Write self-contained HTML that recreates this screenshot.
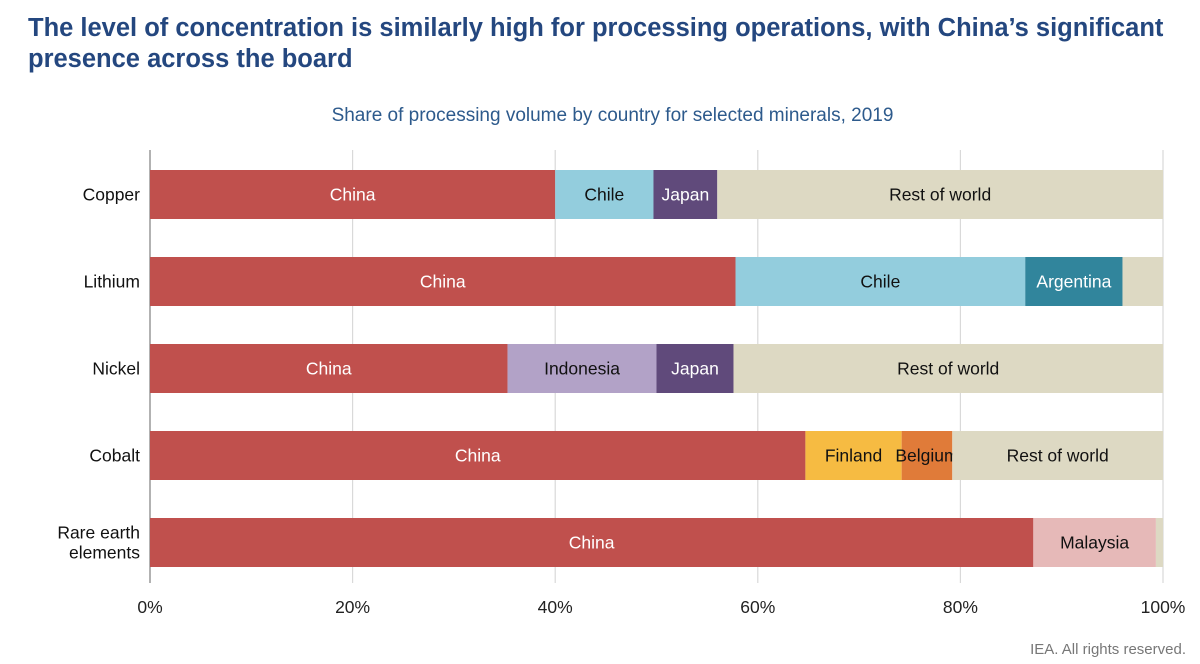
<!DOCTYPE html>
<html><head><meta charset="utf-8"><style>
body{margin:0;width:1200px;height:664px;background:#fff;font-family:"Liberation Sans",sans-serif;overflow:hidden;position:relative}
#title{position:absolute;left:28px;top:13px;width:1170px;font-size:25.5px;font-weight:bold;color:#24477f;line-height:31px}
#sub{position:absolute;left:0;width:1225px;top:105px;text-align:center;font-size:19px;color:#2d5a8c}
#foot{position:absolute;right:14px;top:641px;font-size:15px;color:#777}
</style></head><body>
<div id="title">The level of concentration is similarly high for processing operations, with China’s significant presence across the board</div>
<div id="sub">Share of processing volume by country for selected minerals, 2019</div>
<svg id="chart" width="1200" height="664" style="position:absolute;left:0;top:0"></svg>
<div id="foot">IEA. All rights reserved.</div>
<script>
const minerals=["Copper","Lithium","Nickel","Cobalt","Rare earth|elements"];
const segLabels=[["China","Chile","Japan","Rest of world"],["China","Chile","Argentina",""],["China","Indonesia","Japan","Rest of world"],["China","Finland","Belgium","Rest of world"],["China","Malaysia",""]];
const segValues=[[40,9.7,6.3,44],[57.8,28.6,9.6,4],[35.3,14.7,7.6,42.4],[64.7,9.5,5,20.8],[87.2,12.1,0.7]];
const ticks=[0,20,40,60,80,100];
const colorMap={"China":"#c0504d","Chile":"#93cddd","Japan":"#604a7b","Rest of world":"#ddd9c3","":"#ddd9c3","Argentina":"#31859c","Indonesia":"#b2a2c7","Finland":"#f6bb42","Belgium":"#e07b39","Malaysia":"#e6b9b8"};
const whiteText={"China":1,"Japan":1,"Argentina":1};
const NS="http://www.w3.org/2000/svg",svg=document.getElementById("chart");
const x=v=>150+v*10.13, y=i=>170+i*87, bh=49, fs=17.5;
function mk(t,a){const e=document.createElementNS(NS,t);for(const k in a)e.setAttribute(k,a[k]);svg.appendChild(e);return e;}
ticks.forEach(t=>{
 const l=mk("line",{x1:x(t),x2:x(t),y1:150,y2:583,stroke:t===0?"#999":"#d9d9d9","stroke-width":t===0?1.5:1.2});
 
 
 const tx=mk("text",{x:x(t),y:613,"text-anchor":"middle","font-size":fs,fill:"#222"});tx.textContent=t+"%";
 
 
});
minerals.forEach((m,i)=>{
 const parts=m.split("|"),cy=y(i)+bh/2;
 const tx=mk("text",{x:140,y:cy+6-(parts.length-1)*10,"text-anchor":"end","font-size":fs,fill:"#111"});
 parts.forEach((p,k)=>{const ts=document.createElementNS(NS,"tspan");ts.setAttribute("x",140);if(k)ts.setAttribute("dy",20);ts.textContent=p;tx.appendChild(ts);});
 
 
 let acc=0;
 segValues[i].forEach((v,j)=>{
  const lab=segLabels[i][j];
  const r=mk("rect",{x:x(acc),y:y(i),width:x(acc+v)-x(acc),height:bh,fill:colorMap[lab]});
  
  
  if(lab){const t=mk("text",{x:(x(acc)+x(acc+v))/2,y:cy+6,"text-anchor":"middle","font-size":fs,fill:whiteText[lab]?"#fff":"#111"});t.textContent=lab;
   
   }
  acc+=v;
 });
});
</script>
</body></html>
